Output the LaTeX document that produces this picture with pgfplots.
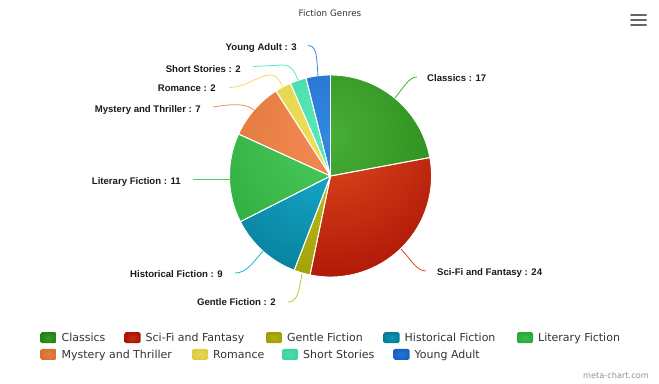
\documentclass[border=0pt]{standalone}
\usepackage{fontspec}
\setmainfont{DejaVu Sans}
\newfontfamily\labfont{Liberation Sans}
\usepackage{pgfplots}
\usepackage{pgfplotstable}
\pgfplotsset{compat=1.18}

\definecolor{pin0}{HTML}{48AE36}\definecolor{pout0}{HTML}{1A780C}
\definecolor{pin1}{HTML}{E04A1C}\definecolor{pout1}{HTML}{9C0600}
\definecolor{pin2}{HTML}{C4C420}\definecolor{pout2}{HTML}{949400}
\definecolor{pin3}{HTML}{1AB0D2}\definecolor{pout3}{HTML}{00708A}
\definecolor{pin4}{HTML}{4CCC5C}\definecolor{pout4}{HTML}{22A032}
\definecolor{pin5}{HTML}{F58B55}\definecolor{pout5}{HTML}{D06A28}
\definecolor{pin6}{HTML}{F0DE58}\definecolor{pout6}{HTML}{D8C840}
\definecolor{pin7}{HTML}{5AE8B8}\definecolor{pout7}{HTML}{38CC98}
\definecolor{pin8}{HTML}{3388E0}\definecolor{pout8}{HTML}{1458BC}
\definecolor{txt}{HTML}{333333}
\definecolor{labtxt}{HTML}{1A1A1A}
\definecolor{menugray}{HTML}{666666}
\definecolor{footgray}{HTML}{909090}

\pgfplotstableread[col sep=comma]{
label,value
Classics,17
Sci-Fi and Fantasy,24
Gentle Fiction,2
Historical Fiction,9
Literary Fiction,11
Mystery and Thriller,7
Romance,2
Short Stories,2
Young Adult,3
}\piedata

\begin{document}
\begin{tikzpicture}
\pgfplotstablegetrowsof{\piedata}
\pgfmathtruncatemacro\lastrow{\pgfplotsretval-1}
\gdef\pietotal{0}
\pgfplotsforeachungrouped \i in {0,...,\lastrow}{%
  \pgfplotstablegetelem{\i}{value}\of\piedata
  \pgfmathsetmacro\pietotal{\pietotal+\pgfplotsretval}%
}
\gdef\piecum{0}
\pgfplotsforeachungrouped \i in {0,...,\lastrow}{%
  \pgfplotstablegetelem{\i}{value}\of\piedata
  \pgfmathsetmacro\tmpS{90-\piecum/\pietotal*360}%
  \pgfmathsetmacro\piecum{\piecum+\pgfplotsretval}%
  \pgfmathsetmacro\tmpE{90-\piecum/\pietotal*360}%
  \expandafter\xdef\csname pieS\i\endcsname{\tmpS}%
  \expandafter\xdef\csname pieE\i\endcsname{\tmpE}%
  \expandafter\xdef\csname pieV\i\endcsname{\pgfplotsretval}%
  \pgfplotstablegetelem{\i}{label}\of\piedata
  \expandafter\xdef\csname pieL\i\endcsname{\pgfplotsretval}%
}
\begin{axis}[x=1bp, y=1bp, xmin=0, xmax=659, ymin=0, ymax=383, y dir=reverse,
  hide axis, clip=false, at={(0,0)}, anchor=south west]
\coordinate (ll) at (axis cs:0,383);
\coordinate (ur) at (axis cs:659,0);
% slices
\pgfplotsinvokeforeach{0,...,8}{
  \path[path picture={\shade[inner color=pin#1, outer color=pout#1] (axis cs:330.5,136) circle[radius=200bp];}]
    (axis cs:330.5,176) -- ++(\csname pieS#1\endcsname:101bp)
    arc[start angle=\csname pieS#1\endcsname, end angle=\csname pieE#1\endcsname, radius=101bp] -- cycle;
}
\pgfplotsinvokeforeach{0,...,8}{
  \draw[white, line width=0.9bp, line join=round]
    (axis cs:330.5,176) -- ++(\csname pieS#1\endcsname:101bp)
    arc[start angle=\csname pieS#1\endcsname, end angle=\csname pieE#1\endcsname, radius=101bp] -- cycle;
}
% connectors
\tikzset{cn/.style={line width=0.8bp}}
\draw[cn, pin0] (axis cs:395,98) .. controls (axis cs:404,87) and (axis cs:409,77) .. (axis cs:417,77);
\draw[cn, pin1] (axis cs:401,249) .. controls (axis cs:410,258) and (axis cs:416,271) .. (axis cs:426,271);
\draw[cn, pin2] (axis cs:302,274) .. controls (axis cs:299,290) and (axis cs:298,302) .. (axis cs:288,302);
\draw[cn, pin3] (axis cs:263,251) .. controls (axis cs:252,264) and (axis cs:246,273) .. (axis cs:235,273);
\draw[cn, pin4] (axis cs:229.5,179) -- (axis cs:193,179);
\draw[cn, pin5] (axis cs:254,110) .. controls (axis cs:246,103) and (axis cs:232,104) .. (axis cs:213,107);
\draw[cn, pin6] (axis cs:283,87) .. controls (axis cs:279,79) and (axis cs:276,75) .. (axis cs:270,75) .. controls (axis cs:258,75) and (axis cs:248,87) .. (axis cs:229,87.5);
\draw[cn, pin7] (axis cs:298,80) .. controls (axis cs:294,70) and (axis cs:291,65) .. (axis cs:282,65) -- (axis cs:253,66.5);
\draw[cn, pin8] (axis cs:318,76) -- (axis cs:317,62) .. controls (axis cs:316,50) and (axis cs:314,45.5) .. (axis cs:308,45.5);
% data labels
\tikzset{dl/.style={inner sep=0pt, text=labtxt, font=\labfont\bfseries\fontsize{9.6bp}{11bp}\selectfont}}
\node[dl, anchor=base west] at (axis cs:427,81.7) {\csname pieL0\endcsname{} : \csname pieV0\endcsname};
\node[dl, anchor=base west] at (axis cs:437,275.1) {\csname pieL1\endcsname{} : \csname pieV1\endcsname};
\node[dl, anchor=base east] at (axis cs:276,305.4) {\csname pieL2\endcsname{} : \csname pieV2\endcsname};
\node[dl, anchor=base east] at (axis cs:223,277.7) {\csname pieL3\endcsname{} : \csname pieV3\endcsname};
\node[dl, anchor=base east] at (axis cs:181,184.1) {\csname pieL4\endcsname{} : \csname pieV4\endcsname};
\node[dl, anchor=base east] at (axis cs:201,112.7) {\csname pieL5\endcsname{} : \csname pieV5\endcsname};
\node[dl, anchor=base east] at (axis cs:216,91.4) {\csname pieL6\endcsname{} : \csname pieV6\endcsname};
\node[dl, anchor=base east] at (axis cs:241,72.4) {\csname pieL7\endcsname{} : \csname pieV7\endcsname};
\node[dl, anchor=base east] at (axis cs:297,50.7) {\csname pieL8\endcsname{} : \csname pieV8\endcsname};
% title
\node[anchor=base, inner sep=0pt, text=txt, font=\fontsize{8.8bp}{10bp}\selectfont] at (axis cs:330,16.4) {Fiction Genres};
% menu
\draw[menugray, line width=2bp, line cap=round] (axis cs:631,15) -- (axis cs:646,15);
\draw[menugray, line width=2bp, line cap=round] (axis cs:631,20.2) -- (axis cs:646,20.2);
\draw[menugray, line width=2bp, line cap=round] (axis cs:631,25.4) -- (axis cs:646,25.4);
% footer
\node[anchor=base east, inner sep=0pt, text=footgray, font=\fontsize{8.2bp}{10bp}\selectfont] at (axis cs:649,378.7) {meta-chart.com};
% legend
\tikzset{lg/.style={inner sep=0pt, anchor=base west, text=txt, font=\fontsize{11bp}{13bp}\selectfont}}
\newcommand\legitem[4]{%
  \shade[rounded corners=1.5bp, inner color=pin#1!60!pout#1, outer color=pout#1!80!pin#1] (axis cs:#2,{#4-5.5}) rectangle (axis cs:{#2+16},{#4+5.5});
  \node[lg] at (axis cs:{#3},{#4+4}) {\csname pieL#1\endcsname};
}
\legitem{0}{40.5}{61.5}{337.7}
\legitem{1}{124.5}{145.5}{337.7}
\legitem{2}{266}{287}{337.7}
\legitem{3}{383.5}{404.5}{337.7}
\legitem{4}{517}{538}{337.7}
\legitem{5}{40.5}{61.5}{354.3}
\legitem{6}{192}{213}{354.3}
\legitem{7}{282}{303}{354.3}
\legitem{8}{393.5}{414.5}{354.3}
\end{axis}
\pgfresetboundingbox
\path (ll) rectangle (ur);
\end{tikzpicture}
\end{document}
